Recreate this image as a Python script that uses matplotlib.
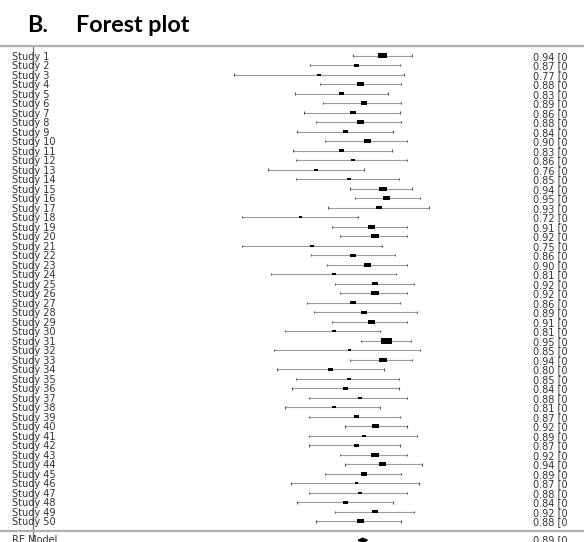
import matplotlib
matplotlib.use("Agg")
import matplotlib.pyplot as plt
import numpy as np

# ---- data ----
studies = [f"Study {i}" for i in range(1, 51)]
estimates = [0.94, 0.87, 0.77, 0.88, 0.83, 0.89, 0.86, 0.88, 0.84, 0.90,
             0.83, 0.86, 0.76, 0.85, 0.94, 0.95, 0.93, 0.72, 0.91, 0.92,
             0.75, 0.86, 0.90, 0.81, 0.92, 0.92, 0.86, 0.89, 0.91, 0.81,
             0.95, 0.85, 0.94, 0.80, 0.85, 0.84, 0.88, 0.81, 0.87, 0.92,
             0.89, 0.87, 0.92, 0.94, 0.89, 0.87, 0.88, 0.84, 0.92, 0.88]
ci_lower = [0.861, 0.744, 0.539, 0.772, 0.703, 0.780, 0.728, 0.760, 0.709, 0.785,
            0.698, 0.707, 0.633, 0.707, 0.852, 0.866, 0.793, 0.563, 0.805, 0.826,
            0.561, 0.746, 0.791, 0.641, 0.812, 0.826, 0.736, 0.756, 0.805, 0.677,
            0.881, 0.649, 0.852, 0.656, 0.707, 0.695, 0.743, 0.677, 0.743, 0.838,
            0.743, 0.743, 0.826, 0.838, 0.786, 0.694, 0.743, 0.709, 0.812, 0.760]
ci_upper = [1.019, 0.987, 0.997, 0.990, 0.953, 0.990, 0.987, 0.988, 0.968, 1.006,
            0.965, 1.005, 0.890, 0.984, 1.020, 1.040, 1.064, 0.874, 1.006, 1.006,
            0.939, 0.973, 1.006, 0.976, 1.025, 1.006, 0.987, 1.031, 1.005, 0.934,
            1.015, 1.041, 1.019, 0.943, 0.983, 0.983, 1.005, 0.934, 0.986, 1.005,
            1.033, 0.986, 1.005, 1.047, 0.990, 1.037, 1.005, 0.968, 1.024, 0.988]
weights = [3.25, 1.85, 1.40, 2.34, 1.85, 2.34, 1.85, 2.34, 1.85, 2.34,
           1.85, 1.40, 1.40, 1.40, 2.80, 2.55, 1.85, 1.15, 2.34, 2.80,
           1.40, 1.85, 2.55, 1.40, 2.10, 2.80, 1.85, 1.85, 2.34, 1.40,
           3.74, 1.15, 2.80, 1.85, 1.40, 1.85, 1.40, 1.40, 1.85, 2.55,
           1.15, 1.85, 2.80, 2.34, 2.34, 1.15, 1.40, 1.85, 2.10, 2.55]
re_label = "RE Model"
re_est, re_lower, re_upper = 0.886, 0.874, 0.899

# ---- figure ----
W, H = 584, 542
fig = plt.figure(figsize=(W / 100, H / 100), dpi=100)
ax = fig.add_axes([0, 0, 1, 1])
ax.set_axis_off()

px_per_unit = 372.0
x0_px = 33.0
row_px = 9.502
row1_px = 55.7
ax.set_xlim(-x0_px / px_per_unit, (W - x0_px) / px_per_unit)
ax.set_ylim(1 + (H - row1_px) / row_px, 1 - row1_px / row_px)

k = len(studies)
ys = np.arange(1, k + 1)
est = np.array(estimates)
lo = np.array(ci_lower)
hi = np.array(ci_upper)
w = np.array(weights)

# reference line at 0 and horizontal rules
ax.vlines(0, 0, 60, color="#7a7a7a", lw=1.0, zorder=1)
ax.axhline(0, color="#b0b0b0", lw=1.6, zorder=1)
ax.axhline(k + 1, color="#b0b0b0", lw=1.6, zorder=1)

# CI lines and end ticks
ax.hlines(ys, lo, hi, color="#9a9a9a", lw=0.8, zorder=2)
cap = 0.13
ax.vlines(lo, ys - cap, ys + cap, color="#555555", lw=0.8, zorder=2)
ax.vlines(hi, ys - cap, ys + cap, color="#555555", lw=0.8, zorder=2)

# weighted boxes
box_w = w * 2.862 / px_per_unit
box_h = (w * 2.862 / 1.85) / row_px
ax.barh(ys, box_w, left=est - box_w / 2, height=box_h, color="black", zorder=3)

# summary diamond
yr = k + 2
dh = 0.22
ax.fill([re_lower, re_est, re_upper, re_est], [yr, yr - dh, yr, yr + dh],
        color="black", zorder=3)

# text columns
lab_x = (11.7 - x0_px) / px_per_unit
val_x = (533.3 - x0_px) / px_per_unit
fs = 7.0
tc = "#333333"
for y, s, e in zip(ys, studies, est):
    ax.text(lab_x, y, s, fontsize=fs, family="DejaVu Sans", color=tc,
            ha="left", va="center_baseline")
    ax.text(val_x, y, f"{e:.2f} [0", fontsize=fs, family="DejaVu Sans",
            color=tc, ha="left", va="center_baseline")
ax.text(lab_x, yr - 0.1, re_label, fontsize=fs, family="DejaVu Sans", color=tc,
        ha="left", va="center_baseline")
ax.text(val_x, yr - 0.1, f"{round(re_est, 2):.2f} [0", fontsize=fs,
        family="DejaVu Sans", color=tc, ha="left", va="center_baseline")

# title
fig.text(27 / W, 1 - 32.3 / H, "B.", fontsize=16.8, family="Lato", weight="bold",
         ha="left", va="baseline")
fig.text(76 / W, 1 - 32.3 / H, "Forest plot", fontsize=16.8, family="Lato",
         weight="bold", ha="left", va="baseline")

fig.savefig("out.png", dpi=100)
